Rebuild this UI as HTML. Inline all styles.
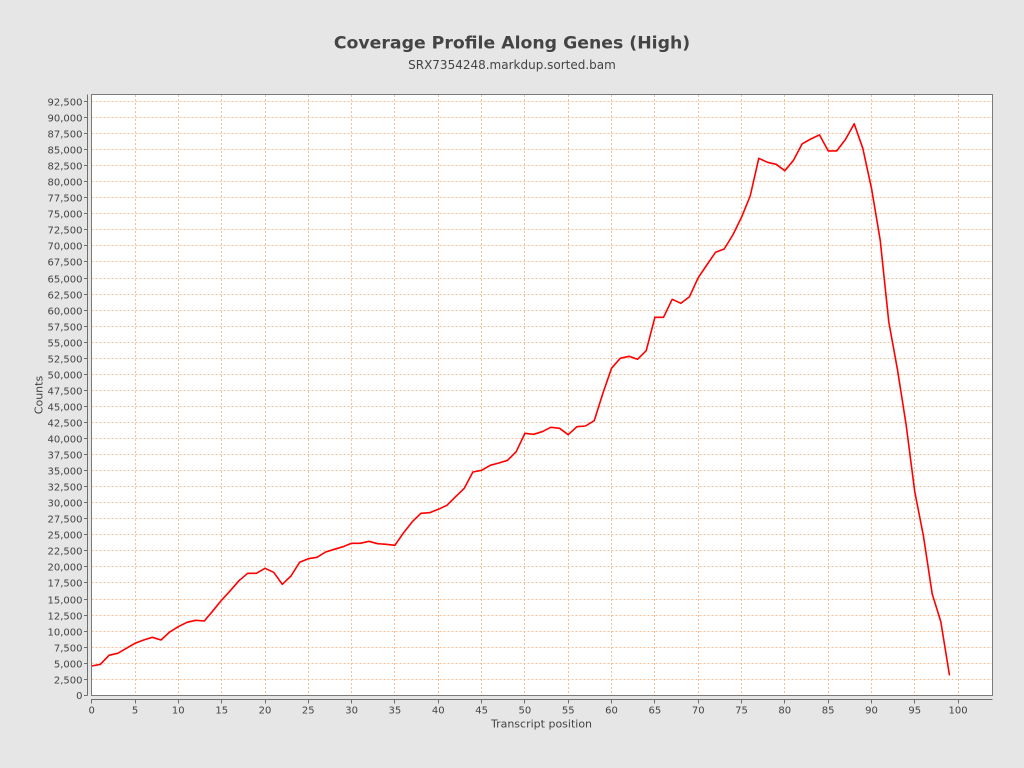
<!DOCTYPE html>
<html><head><meta charset="utf-8"><style>
html,body{margin:0;padding:0;background:#e6e6e6;}
svg{display:block;}
text{font-family:"DejaVu Sans","Liberation Sans",sans-serif;fill:#444;}
</style></head><body>
<svg width="1024" height="768" viewBox="0 0 1024 768" xmlns="http://www.w3.org/2000/svg">
<rect x="0" y="0" width="1024" height="768" fill="#e6e6e6"/>
<text x="512" y="48.5" text-anchor="middle" font-size="17.3" font-weight="bold" fill="#404040">Coverage Profile Along Genes (High)</text>
<text x="512" y="69" text-anchor="middle" font-size="12">SRX7354248.markdup.sorted.bam</text>
<rect x="91.5" y="94.5" width="901" height="601" fill="#fff"/>
<g stroke="#f0c09a" stroke-width="1" stroke-dasharray="2,2" fill="none">
<path d="M91.5 679.5H992M91.5 663.5H992M91.5 647.5H992M91.5 631.5H992M91.5 615.5H992M91.5 599.5H992M91.5 582.5H992M91.5 566.5H992M91.5 550.5H992M91.5 534.5H992M91.5 518.5H992M91.5 502.5H992M91.5 486.5H992M91.5 470.5H992M91.5 454.5H992M91.5 438.5H992M91.5 422.5H992M91.5 406.5H992M91.5 390.5H992M91.5 374.5H992M91.5 358.5H992M91.5 342.5H992M91.5 326.5H992M91.5 310.5H992M91.5 294.5H992M91.5 278.5H992M91.5 261.5H992M91.5 245.5H992M91.5 229.5H992M91.5 213.5H992M91.5 197.5H992M91.5 181.5H992M91.5 165.5H992M91.5 149.5H992M91.5 133.5H992M91.5 117.5H992M91.5 101.5H992"/>
<path d="M135.5 95V695M178.5 95V695M221.5 95V695M265.5 95V695M308.5 95V695M351.5 95V695M394.5 95V695M438.5 95V695M481.5 95V695M524.5 95V695M568.5 95V695M611.5 95V695M654.5 95V695M698.5 95V695M741.5 95V695M784.5 95V695M828.5 95V695M871.5 95V695M914.5 95V695M958.5 95V695"/>
</g>
<polyline fill="none" stroke="#ff0000" stroke-width="1.6" stroke-linejoin="round" points="91.7,666 100.4,664.3 109.0,655.3 117.7,653.3 126.4,648.3 135.0,643.3 143.7,640 152.3,637.3 161.0,640 169.7,632 178.3,626.7 187.0,622.3 195.7,620.3 204.3,621 213.0,610.7 221.7,600 230.3,590.7 239.0,580.7 247.7,573.3 256.3,573.3 265.0,568.3 273.7,572.3 282.3,584.3 291.0,576 299.6,562.3 308.3,558.7 317.0,557.3 325.6,552 334.3,549.3 343.0,546.7 351.6,543.3 360.3,543.3 369.0,541.3 377.6,543.7 386.3,544.3 394.9,545.3 403.6,532.7 412.3,521.7 420.9,513.3 429.6,512.7 438.3,509.3 446.9,505.3 455.6,496.7 464.3,488.3 472.9,472 481.6,470.3 490.3,465.3 498.9,463 507.6,460.3 516.2,451.7 524.9,433.3 533.6,434.3 542.2,431.7 550.9,427.3 559.6,428.3 568.2,434.7 576.9,426.7 585.5,426 594.2,420.7 602.9,393.3 611.5,368.3 620.2,358.3 628.9,356.3 637.5,359.3 646.2,350.7 654.9,317.3 663.5,317.3 672.2,299.3 680.9,303.3 689.5,296.7 698.2,277.7 706.8,265 715.5,252.3 724.2,249 732.8,235 741.5,217.3 750.2,196 758.8,158.3 767.5,162.3 776.2,164.3 784.8,170.7 793.5,160.3 802.2,143.8 810.8,139 819.5,134.9 828.2,150.9 836.8,150.9 845.5,139.4 854.2,123.8 862.8,148.3 871.5,188.3 880.2,240.1 888.8,322 897.5,369.8 906.2,425.3 914.8,492 923.5,536.4 932.2,593.9 940.8,621.6 949.5,675.4"/>
<rect x="91.5" y="94.5" width="901" height="601" fill="none" stroke="#7a7a7a" stroke-width="1"/>
<g stroke="#6e6e6e" stroke-width="1" fill="none">
<path d="M87.5 94.5V695.5"/>
<path d="M91 699.5H992.5"/>
<path d="M84 695.5H87.5M84 679.5H87.5M84 663.5H87.5M84 647.5H87.5M84 631.5H87.5M84 615.5H87.5M84 599.5H87.5M84 582.5H87.5M84 566.5H87.5M84 550.5H87.5M84 534.5H87.5M84 518.5H87.5M84 502.5H87.5M84 486.5H87.5M84 470.5H87.5M84 454.5H87.5M84 438.5H87.5M84 422.5H87.5M84 406.5H87.5M84 390.5H87.5M84 374.5H87.5M84 358.5H87.5M84 342.5H87.5M84 326.5H87.5M84 310.5H87.5M84 294.5H87.5M84 278.5H87.5M84 261.5H87.5M84 245.5H87.5M84 229.5H87.5M84 213.5H87.5M84 197.5H87.5M84 181.5H87.5M84 165.5H87.5M84 149.5H87.5M84 133.5H87.5M84 117.5H87.5M84 101.5H87.5"/>
<path d="M91.5 699.5V703.5M135.5 699.5V703.5M178.5 699.5V703.5M221.5 699.5V703.5M265.5 699.5V703.5M308.5 699.5V703.5M351.5 699.5V703.5M394.5 699.5V703.5M438.5 699.5V703.5M481.5 699.5V703.5M524.5 699.5V703.5M568.5 699.5V703.5M611.5 699.5V703.5M654.5 699.5V703.5M698.5 699.5V703.5M741.5 699.5V703.5M784.5 699.5V703.5M828.5 699.5V703.5M871.5 699.5V703.5M914.5 699.5V703.5M958.5 699.5V703.5"/>
</g>
<g font-size="10" text-anchor="end">
<text x="82.5" y="699">0</text>
<text x="82.5" y="683.5">2,500</text>
<text x="82.5" y="667.5">5,000</text>
<text x="82.5" y="651.5">7,500</text>
<text x="82.5" y="635.5">10,000</text>
<text x="82.5" y="619.5">12,500</text>
<text x="82.5" y="603.5">15,000</text>
<text x="82.5" y="586.5">17,500</text>
<text x="82.5" y="570.5">20,000</text>
<text x="82.5" y="554.5">22,500</text>
<text x="82.5" y="538.5">25,000</text>
<text x="82.5" y="522.5">27,500</text>
<text x="82.5" y="506.5">30,000</text>
<text x="82.5" y="490.5">32,500</text>
<text x="82.5" y="474.5">35,000</text>
<text x="82.5" y="458.5">37,500</text>
<text x="82.5" y="442.5">40,000</text>
<text x="82.5" y="426.5">42,500</text>
<text x="82.5" y="410.5">45,000</text>
<text x="82.5" y="394.5">47,500</text>
<text x="82.5" y="378.5">50,000</text>
<text x="82.5" y="362.5">52,500</text>
<text x="82.5" y="346.5">55,000</text>
<text x="82.5" y="330.5">57,500</text>
<text x="82.5" y="314.5">60,000</text>
<text x="82.5" y="298.5">62,500</text>
<text x="82.5" y="282.5">65,000</text>
<text x="82.5" y="265.5">67,500</text>
<text x="82.5" y="249.5">70,000</text>
<text x="82.5" y="233.5">72,500</text>
<text x="82.5" y="217.5">75,000</text>
<text x="82.5" y="201.5">77,500</text>
<text x="82.5" y="185.5">80,000</text>
<text x="82.5" y="169.5">82,500</text>
<text x="82.5" y="153.5">85,000</text>
<text x="82.5" y="137.5">87,500</text>
<text x="82.5" y="121.5">90,000</text>
<text x="82.5" y="105.5">92,500</text>
</g>
<g font-size="10" text-anchor="middle">
<text x="91.7" y="713.5">0</text>
<text x="135.0" y="713.5">5</text>
<text x="178.3" y="713.5">10</text>
<text x="221.7" y="713.5">15</text>
<text x="265.0" y="713.5">20</text>
<text x="308.3" y="713.5">25</text>
<text x="351.6" y="713.5">30</text>
<text x="394.9" y="713.5">35</text>
<text x="438.3" y="713.5">40</text>
<text x="481.6" y="713.5">45</text>
<text x="524.9" y="713.5">50</text>
<text x="568.2" y="713.5">55</text>
<text x="611.5" y="713.5">60</text>
<text x="654.9" y="713.5">65</text>
<text x="698.2" y="713.5">70</text>
<text x="741.5" y="713.5">75</text>
<text x="784.8" y="713.5">80</text>
<text x="828.1" y="713.5">85</text>
<text x="871.5" y="713.5">90</text>
<text x="914.8" y="713.5">95</text>
<text x="958.1" y="713.5">100</text>
</g>
<text x="541.5" y="727.5" text-anchor="middle" font-size="11">Transcript position</text>
<text transform="translate(42.5,395) rotate(-90)" text-anchor="middle" font-size="11">Counts</text>
</svg>
</body></html>
